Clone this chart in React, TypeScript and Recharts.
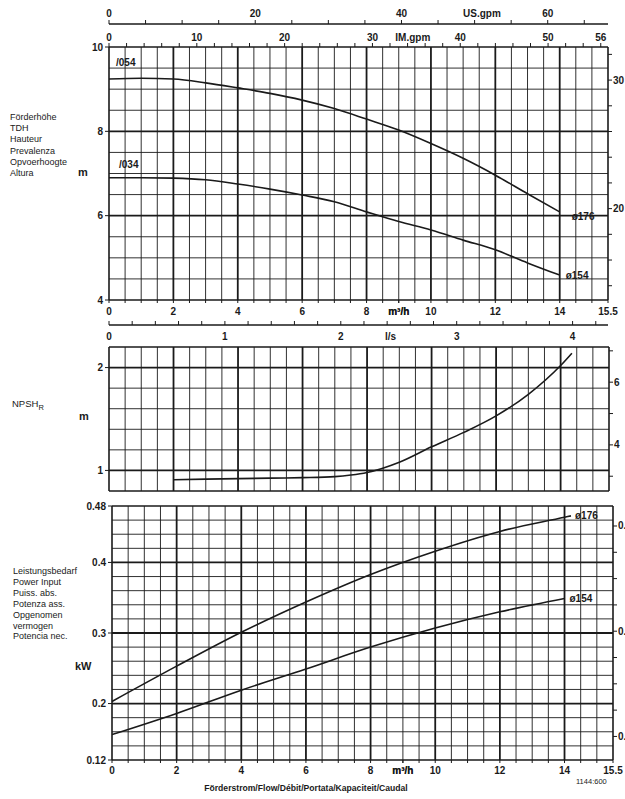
import { Line, LineChart, ReferenceLine, XAxis, YAxis } from "recharts";

const FONT = '"Liberation Sans", Arial, sans-serif';
const INK = "#1a1a1a";
const TICK_TEXT = { fontFamily: FONT, fontSize: 10, fontWeight: 700, fill: INK };

/* unit conversions for the secondary scales */
const M3H_PER_USGPM = 0.227125;
const M3H_PER_IMGPM = 0.272765;
const M3H_PER_LS = 3.6;
const M_PER_FT = 0.3048;
const KW_PER_HP = 0.7457;

const FLOW_MAX = 15.5;

// head curves, m over m³/h
const FLOW_HEAD = [0, 1, 2, 3, 4, 5, 6, 7, 8, 9, 10, 11, 12, 13, 14];
const HEAD_176 = [9.24, 9.26, 9.24, 9.15, 9.03, 8.9, 8.74, 8.54, 8.29, 8.03, 7.71, 7.36, 6.96, 6.52, 6.09];
const HEAD_154 = [6.9, 6.9, 6.89, 6.85, 6.75, 6.63, 6.49, 6.33, 6.09, 5.86, 5.66, 5.42, 5.19, 4.88, 4.59];

// NPSHr
const FLOW_NPSH = [2, 3, 4, 5, 6, 7, 7.5, 8, 9, 10, 11, 12, 13, 14, 14.35];
const NPSH = [0.91, 0.915, 0.92, 0.925, 0.93, 0.94, 0.955, 0.98, 1.08, 1.23, 1.37, 1.53, 1.74, 2.02, 2.14];

// power input, kW
const FLOW_P176 = [0, 2, 4, 6, 8, 10, 12, 14, 14.2];
const POWER_176 = [0.203, 0.253, 0.301, 0.344, 0.383, 0.416, 0.444, 0.464, 0.466];
const FLOW_P154 = [0, 2, 4, 6, 8, 10, 12, 14];
const POWER_154 = [0.156, 0.186, 0.219, 0.249, 0.28, 0.307, 0.33, 0.349];

// tick labels
const FLOW_LABELS = [0, 2, 4, 6, 8, 10, 12, 14, 15.5];
const FLOW_UNIT_AT = 9;
const US_LABELS = [0, 20, 40, 60];
const US_UNIT_AT = 51;
const IM_LABELS = [0, 10, 20, 30, 40, 50, 56];
const IM_UNIT_AT = 34.6;
const LS_LABELS = [0, 1, 2, 3, 4];
const LS_UNIT_AT = 2.43;
const HEAD_LABELS = [4, 6, 8, 10];
const FT_HEAD_LABELS = [20, 30];
const NPSH_LABELS = [1, 2];
const FT_NPSH_LABELS = [4, 6];
const KW_LABELS = [0.12, 0.2, 0.3, 0.4, 0.48];
const HP_LABELS = [0.2, 0.4, 0.6];

function range(a: number, b: number, step: number) {
  const out: number[] = [];
  for (let i = 0; a + i * step <= b + 1e-9; i++) out.push(+(a + i * step).toFixed(4));
  return out;
}
const near = (arr: number[], v: number) => arr.some((a) => Math.abs(a - v) < 1e-6);
const pts = (q: number[], v: number[]) => q.map((x, i) => ({ q: x, v: v[i] }));

const FLOW_MARKS = range(0, 15.5, 0.5);
const FLOW_THICK = [2, 4, 6, 8, 10, 12, 14];
const US_MARKS = range(0, 65, 5);
const IM_MARKS = range(0, 56, 2);
const LS_MARKS = range(0, 4.2, 0.2);
const HEAD_GRID = range(4, 10, 0.5);
const HEAD_THICK = [6, 8];
const NPSH_GRID = range(0.8, 2.2, 0.2);
const NPSH_THICK = [1, 2];
const KW_GRID = range(0.12, 0.48, 0.02);
const KW_THICK = [0.2, 0.3, 0.4];
const FT_HEAD_MARKS = range(14, 32, 2);
const FT_NPSH_MARKS = [3, 4, 5, 6, 7];
const HP_MARKS = range(0.2, 0.6, 0.05);

const fmt = (v: number) => String(+v.toFixed(2));

function topTick(marks: number[], labels: number[], unitAt: number, unit: string, lift: number) {
  return (p: any) => {
    const v = p.payload.value;
    return (
      <g>
        {near(marks, v) && <line x1={p.x} x2={p.x} y1={p.y} y2={p.y - 4} stroke={INK} strokeWidth={1} />}
        {near(labels, v) && (
          <text x={p.x} y={p.y - lift} textAnchor="middle" {...TICK_TEXT}>
            {fmt(v)}
          </text>
        )}
        {Math.abs(v - unitAt) < 1e-6 && (
          <text x={p.x} y={p.y - lift} textAnchor="middle" {...TICK_TEXT}>
            {unit}
          </text>
        )}
      </g>
    );
  };
}

/* flow labels under a panel, little marks pointing down */
function flowTick(drop: number) {
  return (p: any) => {
    const v = p.payload.value;
    return (
      <g>
        {near(FLOW_MARKS, v) && <line x1={p.x} x2={p.x} y1={p.y} y2={p.y + 3} stroke={INK} strokeWidth={1} />}
        {near(FLOW_LABELS, v) && (
          <text x={p.x} y={p.y + drop} textAnchor="middle" {...TICK_TEXT}>
            {fmt(v)}
          </text>
        )}
        {Math.abs(v - FLOW_UNIT_AT) < 1e-6 && (
          <text x={p.x} y={p.y + drop} textAnchor="middle" {...TICK_TEXT}>
            m³/h
          </text>
        )}
      </g>
    );
  };
}

/* l/s scale: marks point up, numbers hang below the line */
const lsTick = (p: any) => {
  const v = p.payload.value;
  return (
    <g>
      {near(LS_MARKS, v) && <line x1={p.x} x2={p.x} y1={p.y} y2={p.y - 4} stroke={INK} strokeWidth={1} />}
      {near(LS_LABELS, v) && (
        <text x={p.x} y={p.y + 15} textAnchor="middle" {...TICK_TEXT}>
          {fmt(v)}
        </text>
      )}
      {Math.abs(v - LS_UNIT_AT) < 1e-6 && (
        <text x={p.x} y={p.y + 15} textAnchor="middle" {...TICK_TEXT}>
          l/s
        </text>
      )}
    </g>
  );
};

// the printed right scales sit a few px high on the sheet
function rightTick(labels: number[]) {
  return (p: any) => {
    const v = p.payload.value;
    const y = p.y - 3;
    return (
      <g>
        <line x1={p.x} x2={p.x + 4} y1={y} y2={y} stroke={INK} strokeWidth={1} />
        {near(labels, v) && (
          <text x={p.x + 5} y={y + 3.5} {...TICK_TEXT}>
            {fmt(v)}
          </text>
        )}
      </g>
    );
  };
}

function pointLabel(text: string, at: number, dx: number, dy: number) {
  return (p: any) =>
    p.index === at ? (
      <text x={p.x + dx} y={p.y + dy} {...TICK_TEXT}>
        {text}
      </text>
    ) : (
      <g />
    );
}

function grid(xs: number[], xThick: number[], ys: number[], yThick: number[], xEdge: number[], yEdge: number[], yId: string) {
  const w = (v: number, thick: number[], edge: number[]) =>
    near(edge, v) ? 1.6 : near(thick, v) ? 1.8 : 0.9;
  return [
    ...xs.map((v) => (
      <ReferenceLine key={"x" + v} xAxisId="q" yAxisId={yId} x={v} stroke={INK} strokeWidth={w(v, xThick, xEdge)} />
    )),
    ...ys.map((v) => (
      <ReferenceLine key={"y" + v} xAxisId="q" yAxisId={yId} y={v} stroke={INK} strokeWidth={w(v, yThick, yEdge)} />
    )),
  ];
}

const lineProps = {
  type: "monotone" as const,
  dataKey: "v",
  stroke: INK,
  strokeWidth: 1.6,
  dot: false,
  isAnimationActive: false,
  xAxisId: "q",
};

const HEAD_TEXT = ["Förderhöhe", "TDH", "Hauteur", "Prevalenza", "Opvoerhoogte", "Altura"];
const POWER_TEXT = ["Leistungsbedarf", "Power Input", "Puiss. abs.", "Potenza ass.", "Opgenomen", "vermogen", "Potencia nec."];

export default function App() {
  const leftTick = { ...TICK_TEXT };
  return (
    <div
      style={{
        position: "fixed",
        left: 0,
        top: 0,
        width: 625,
        height: 799,
        overflow: "hidden",
        background: "#fff",
      }}
    >
      <style>{`.recharts-surface{overflow:visible}`}</style>

      <svg width={625} height={799} style={{ position: "absolute", left: 0, top: 0 }}>
        {HEAD_TEXT.map((t, i) => (
          <text key={t} x={10} y={120 + i * 11.2} fontFamily={FONT} fontSize={9} fill={INK}>
            {t}
          </text>
        ))}
        <text x={78} y={176} {...TICK_TEXT} fontSize={11}>m</text>
        <text x={12} y={407} fontFamily={FONT} fontSize={9.5} fill={INK}>
          NPSH
          <tspan fontSize={7.5} dy={3}>R</tspan>
        </text>
        <text x={79} y={420} {...TICK_TEXT} fontSize={11}>m</text>
        {POWER_TEXT.map((t, i) => (
          <text key={t} x={13} y={574 + i * 10.9} fontFamily={FONT} fontSize={9} fill={INK}>
            {t}
          </text>
        ))}
        <text x={75} y={670} {...TICK_TEXT} fontSize={11}>kW</text>
        <text x={306} y={791} textAnchor="middle" {...TICK_TEXT} fontSize={8.6}>
          Förderstrom/Flow/Débit/Portata/Kapaciteit/Caudal
        </text>
        <text x={576} y={784} fontFamily={FONT} fontSize={7.5} fill={INK}>1144:600</text>
      </svg>

      {/* head; bottom axes stack by id, so the l/s scale is "s" to sit below "q" */}
      <div style={{ position: "absolute", left: 0, top: 0 }}>
        <LineChart width={625} height={345} margin={{ top: 0, right: 0, bottom: 0, left: 0 }}>
          <XAxis
            xAxisId="q"
            type="number"
            dataKey="q"
            domain={[0, FLOW_MAX]}
            allowDataOverflow
            ticks={[...FLOW_MARKS, FLOW_UNIT_AT]}
            interval={0}
            height={25}
            axisLine={false}
            tickLine={false}
            tickSize={0}
            tickMargin={0}
            tick={flowTick(15)}
          />
          <XAxis
            xAxisId="s"
            type="number"
            dataKey="ls"
            domain={[0, FLOW_MAX / M3H_PER_LS]}
            allowDataOverflow
            ticks={[...LS_MARKS, LS_UNIT_AT]}
            interval={0}
            height={20}
            axisLine={{ stroke: INK, strokeWidth: 1.3 }}
            tickLine={false}
            tickSize={0}
            tickMargin={0}
            tick={lsTick}
          />
          <XAxis
            xAxisId="im"
            orientation="top"
            type="number"
            dataKey="im"
            domain={[0, FLOW_MAX / M3H_PER_IMGPM]}
            allowDataOverflow
            ticks={[...IM_MARKS, IM_UNIT_AT]}
            interval={0}
            height={23}
            axisLine={false}
            tickLine={false}
            tickSize={0}
            tickMargin={0}
            tick={topTick(IM_MARKS, IM_LABELS, IM_UNIT_AT, "IM.gpm", 6)}
          />
          <XAxis
            xAxisId="us"
            orientation="top"
            type="number"
            dataKey="us"
            domain={[0, FLOW_MAX / M3H_PER_USGPM]}
            allowDataOverflow
            ticks={[...US_MARKS, US_UNIT_AT]}
            interval={0}
            height={24}
            axisLine={{ stroke: INK, strokeWidth: 1.3 }}
            tickLine={false}
            tickSize={0}
            tickMargin={0}
            tick={topTick(US_MARKS, US_LABELS, US_UNIT_AT, "US.gpm", 7)}
          />
          <YAxis
            yAxisId="m"
            type="number"
            width={109}
            domain={[4, 10]}
            allowDataOverflow
            ticks={HEAD_LABELS}
            interval={0}
            axisLine={false}
            tickLine={{ stroke: INK }}
            tickSize={4}
            tickMargin={2}
            tick={leftTick}
          />
          <YAxis
            yAxisId="ft"
            orientation="right"
            type="number"
            width={17}
            domain={[4 / M_PER_FT, 10 / M_PER_FT]}
            allowDataOverflow
            ticks={FT_HEAD_MARKS}
            interval={0}
            axisLine={false}
            tickLine={false}
            tickSize={0}
            tickMargin={0}
            tick={rightTick(FT_HEAD_LABELS)}
          />
          {grid(FLOW_MARKS, FLOW_THICK, HEAD_GRID, HEAD_THICK, [0, FLOW_MAX], [4, 10], "m")}
          <Line
            {...lineProps}
            yAxisId="m"
            data={pts(FLOW_HEAD, HEAD_176)}
            label={(p: any) =>
              p.index === 0
                ? pointLabel("/054", 0, 7, -13)(p)
                : pointLabel("ø176", FLOW_HEAD.length - 1, 12, 8)(p)
            }
          />
          <Line
            {...lineProps}
            yAxisId="m"
            data={pts(FLOW_HEAD, HEAD_154)}
            label={(p: any) =>
              p.index === 0
                ? pointLabel("/034", 0, 10, -10)(p)
                : pointLabel("ø154", FLOW_HEAD.length - 1, 6, 4)(p)
            }
          />
        </LineChart>
      </div>

      {/* NPSH */}
      <div style={{ position: "absolute", left: 0, top: 347 }}>
        <LineChart width={625} height={144} margin={{ top: 0, right: 0, bottom: 0, left: 0 }}>
          <XAxis xAxisId="q" type="number" dataKey="q" domain={[0, FLOW_MAX]} allowDataOverflow hide />
          <YAxis
            yAxisId="m"
            type="number"
            width={109}
            domain={[0.8, 2.2]}
            allowDataOverflow
            ticks={NPSH_LABELS}
            interval={0}
            axisLine={false}
            tickLine={{ stroke: INK }}
            tickSize={4}
            tickMargin={2}
            tick={leftTick}
          />
          <YAxis
            yAxisId="ft"
            orientation="right"
            type="number"
            width={16}
            domain={[0.8 / M_PER_FT, 2.2 / M_PER_FT]}
            allowDataOverflow
            ticks={FT_NPSH_MARKS}
            interval={0}
            axisLine={false}
            tickLine={false}
            tickSize={0}
            tickMargin={0}
            tick={rightTick(FT_NPSH_LABELS)}
          />
          {grid(FLOW_MARKS, FLOW_THICK, NPSH_GRID, NPSH_THICK, [0, FLOW_MAX], [0.8, 2.2], "m")}
          <Line {...lineProps} yAxisId="m" data={pts(FLOW_NPSH, NPSH)} />
        </LineChart>
      </div>

      {/* power input */}
      <div style={{ position: "absolute", left: 0, top: 506 }}>
        <LineChart width={625} height={274} margin={{ top: 0, right: 0, bottom: 0, left: 0 }}>
          <XAxis
            xAxisId="q"
            type="number"
            dataKey="q"
            domain={[0, FLOW_MAX]}
            allowDataOverflow
            ticks={[...FLOW_MARKS, FLOW_UNIT_AT]}
            interval={0}
            height={20}
            axisLine={false}
            tickLine={false}
            tickSize={0}
            tickMargin={0}
            tick={flowTick(14)}
          />
          <YAxis
            yAxisId="kw"
            type="number"
            width={112}
            domain={[0.12, 0.48]}
            allowDataOverflow
            ticks={KW_LABELS}
            interval={0}
            axisLine={false}
            tickLine={{ stroke: INK }}
            tickSize={4}
            tickMargin={2}
            tick={leftTick}
          />
          <YAxis
            yAxisId="hp"
            orientation="right"
            type="number"
            width={12}
            domain={[0.12 / KW_PER_HP, 0.48 / KW_PER_HP]}
            allowDataOverflow
            ticks={HP_MARKS}
            interval={0}
            axisLine={false}
            tickLine={false}
            tickSize={0}
            tickMargin={0}
            tick={rightTick(HP_LABELS)}
          />
          {grid(FLOW_MARKS, FLOW_THICK, KW_GRID, KW_THICK, [0, FLOW_MAX], [0.12, 0.48], "kw")}
          <Line
            {...lineProps}
            yAxisId="kw"
            data={pts(FLOW_P176, POWER_176)}
            label={pointLabel("ø176", FLOW_P176.length - 1, 4, 3)}
          />
          <Line
            {...lineProps}
            yAxisId="kw"
            data={pts(FLOW_P154, POWER_154)}
            label={pointLabel("ø154", FLOW_P154.length - 1, 5, 4)}
          />
        </LineChart>
      </div>
    </div>
  );
}
